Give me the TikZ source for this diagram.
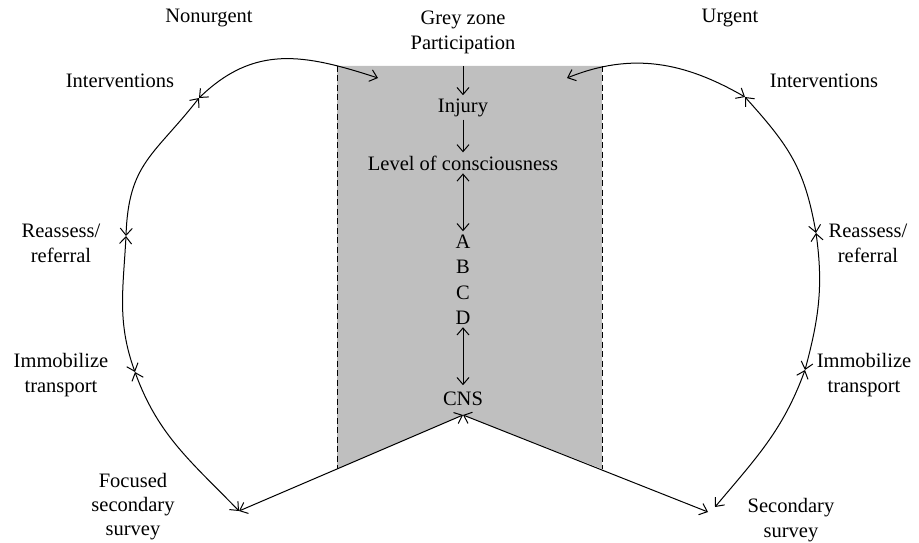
\documentclass[tikz,border=0pt]{standalone}
\usepackage{fontspec}
\setmainfont{Liberation Serif}
\usetikzlibrary{arrows.meta}
\definecolor{greyzone}{RGB}{191,191,191}

\begin{document}
\begin{tikzpicture}[x=1pt,y=1pt,
  every node/.style={font=\fontsize{20.5}{25}\selectfont, inner sep=3pt, anchor=base, align=center},
  barb/.tip={Straight Barb[length=7pt,width=12pt]},
  arr/.style={line width=1pt, -barb},
  link/.style={line width=1pt, barb-barb},
  border/.style={line width=1pt, dash pattern=on 6pt off 3.5pt}]
\useasboundingbox (0,0) rectangle (919,-543);

% points on the two loops
\coordinate (tip) at (463,-415);
\coordinate (lsv) at (239,-511);
\coordinate (lim) at (135,-372);
\coordinate (lre) at (126,-236);
\coordinate (lin) at (199,-98);
\coordinate (gl)  at (378,-78);
\coordinate (gr)  at (567,-78);
\coordinate (rin) at (745,-97);
\coordinate (rre) at (816,-233);
\coordinate (rim) at (805,-370);
\coordinate (rsc) at (715,-507);
\coordinate (rsv) at (708,-512);

% grey zone
\fill[greyzone] (337,-66) -- (602,-66) -- (602,-469) -- (tip) -- (337,-469) -- cycle;
\draw[border] (337,-66) -- (337,-469);
\draw[border] (602,-66) -- (602,-469);

% multi-line labels sit on the baseline of their last line
\node (nonurg) at (209,-23) {Nonurgent};
\node (urg) at (730,-23) {Urgent};
\node (gz) at (463,-50) {Grey zone\\Participation};
\node (inj) at (463,-112) {Injury};
\node (loc) at (463,-170) {Level of consciousness};
\node (a) at (463,-248) {A};
\node (b) at (463,-273) {B};
\node (c) at (463,-299) {C};
\node (d) at (463,-324) {D};
\node[inner ysep=6pt] (cns) at (463,-405) {CNS};

\node (intl) at (120,-88) {Interventions};
\node (reasl) at (61,-262) {Reassess/\\referral};
\node (imml) at (61,-392) {Immobilize\\transport};
\node[font=\fontsize{20.5}{24}\selectfont] (fss) at (133,-535) {Focused\\secondary\\survey};
\node (intr) at (824,-88) {Interventions};
\node (reasr) at (868,-262) {Reassess/\\referral};
\node (immr) at (864,-392) {Immobilize\\transport};
\node (ss) at (791,-537) {Secondary\\survey};

\draw[arr, shorten <=8.5pt] (gz) -- (inj);
\draw[arr] (inj) -- (loc);
\draw[link] (loc) -- (a);
\draw[link] (d) -- (cns);
\draw[link] (tip) -- (lsv);
\draw[link] (tip) -- (rsv);

\draw[link] (lsv) to[out=134,in=-70] (lim);
\draw[link] (lim) to[out=110,in=-93] (lre);
\draw[link] (lre) to[out=88,in=-128,looseness=1.2] (lin);
\draw[link] (lin) to[out=44,in=162,looseness=1.1] (gl);
\draw[link] (gr) to[out=22,in=150] (rin);
\draw[link] (rin) to[out=-48,in=100,looseness=1.1] (rre);
\draw[link] (rre) to[out=-82,in=75] (rim);
\draw[link] (rim) to[out=-110,in=50] (rsc);
\end{tikzpicture}
\end{document}
